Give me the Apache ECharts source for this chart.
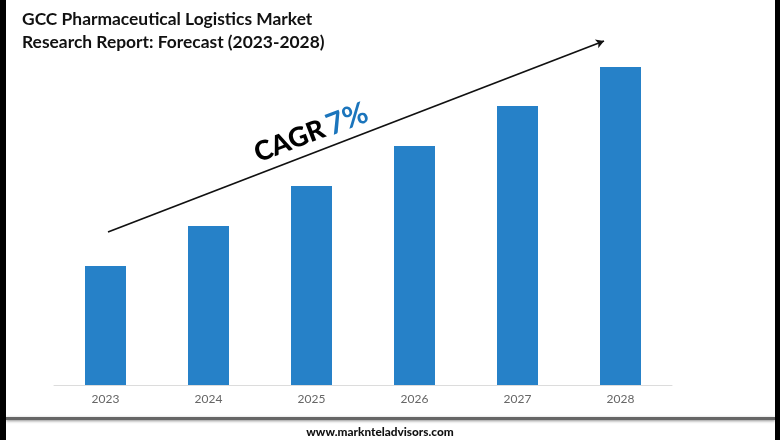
<!DOCTYPE html>
<html>
<head>
<meta charset="utf-8">
<style>
    html, body { margin: 0; padding: 0; background: #fff; }
    #chart { width: 780px; height: 440px; }
</style>
<script src="https://cdn.jsdelivr.net/npm/echarts@6/dist/echarts.min.js"></script>
</head>
<body>
<div id="chart"></div>
<script>
// no scale printed so the unit is arbitrary
const years = ['2023', '2024', '2025', '2026', '2027', '2028'];
const marketSize = [119, 159, 199, 239, 279, 318];
const titleLines = ['GCC Pharmaceutical Logistics Market', 'Research Report: Forecast (2023-2028)'];
const footerText = 'www.marknteladvisors.com';

const chart = echarts.init(document.getElementById('chart'));

chart.setOption({
    backgroundColor: '#fff',
    animation: false,
    title: {
        text: titleLines.join('\n'),
        left: 17,
        top: 3,
        textStyle: {
            fontFamily: 'Lato',
            fontWeight: 700,
            fontSize: 17.4,
            lineHeight: 23,
            color: '#111'
        }
    },
    grid: { left: 54, right: 108, top: 25, bottom: 55 },
    xAxis: {
        type: 'category',
        data: years,
        axisTick: { show: false },
        axisLine: { lineStyle: { color: '#dcdcdc', width: 1 } },
        axisLabel: { color: '#666', fontFamily: 'Lato', fontSize: 12, margin: 8 }
    },
    yAxis: { type: 'value', min: 0, max: 360, show: false },
    series: [{
        type: 'bar',
        data: marketSize,
        barWidth: 41,
        itemStyle: { color: '#2681c8' },
        markLine: {
            silent: true,
            symbolSize: [7, 8],
            label: { show: false },
            lineStyle: { color: '#111', width: 1.8, type: 'solid' },
            data: [[
                { x: 108, y: 232, symbol: 'none' },
                { x: 604, y: 41, symbol: 'arrow' }
            ]]
        }
    }],
    graphic: [
        // frame bars on both sides
        { type: 'rect', shape: { x: 0, y: 0, width: 6, height: 440 }, style: { fill: '#000' } },
        { type: 'rect', shape: { x: 775, y: 0, width: 5, height: 440 }, style: { fill: '#000' } },
        // footer rule
        {
            type: 'rect',
            shape: { x: 6, y: 417, width: 769, height: 3 },
            style: { fill: '#666', shadowBlur: 3, shadowColor: 'rgba(0,0,0,0.45)', shadowOffsetY: 1 }
        },
        {
            type: 'text',
            x: 380,
            y: 432,
            style: {
                text: footerText,
                fontFamily: 'Lato',
                fontWeight: 900,
                fontSize: 11.8,
                fill: '#111',
                align: 'center',
                verticalAlign: 'middle'
            }
        },
        {
            type: 'text',
            x: 311,
            y: 133,
            rotation: 21 * Math.PI / 180,
            style: {
                text: '{a|CAGR}{s| }{b|7%}',
                align: 'center',
                verticalAlign: 'middle',
                rich: {
                    a: { fontFamily: 'Lato', fontWeight: 900, fontSize: 27, fill: '#000' },
                    s: { fontFamily: 'Lato', fontSize: 16 },
                    b: { fontFamily: 'Lato', fontWeight: 700, fontSize: 30, fill: '#1b75bc' }
                }
            }
        }
    ]
});
</script>
</body>
</html>
